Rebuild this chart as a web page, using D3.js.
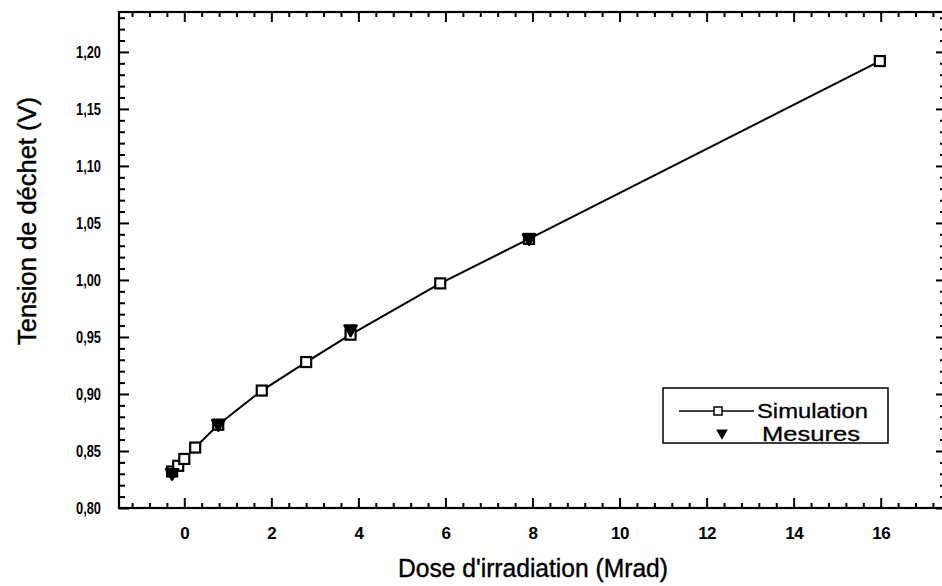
<!DOCTYPE html>
<html>
<head>
<meta charset="utf-8">
<script src="https://cdn.jsdelivr.net/npm/d3@7"></script>
<style>
  html, body { margin: 0; padding: 0; background: #fff; }
  svg { display: block; font-family: "Liberation Sans", Arial, Helvetica, sans-serif; }
</style>
</head>
<body>
<svg id="chart" width="942" height="586"></svg>
<script>
// ---- data ----
const simDose    = [-0.28, -0.14, 0.0, 0.25, 0.78, 1.78, 2.80, 3.82, 5.88, 7.92, 15.98];
const simVoltage = [0.832, 0.837, 0.843, 0.853, 0.873, 0.903, 0.928, 0.952, 0.997, 1.036, 1.192];
const mesDose    = [-0.28, 0.78, 3.82, 7.92];
const mesVoltage = [0.831, 0.874, 0.957, 1.037];
const xTickValues = [0, 2, 4, 6, 8, 10, 12, 14, 16];
const yTickValues = [0.80, 0.85, 0.90, 0.95, 1.00, 1.05, 1.10, 1.15, 1.20];
const yTickLabels = ["0,80", "0,85", "0,90", "0,95", "1,00", "1,05", "1,10", "1,15", "1,20"];
const xTitle = "Dose d'irradiation (Mrad)";
const yTitle = "Tension de déchet (V)";
const legendLabels = ["Simulation", "Mesures"];

// ---- layout ----
const svg = d3.select("#chart");
const pL = 119, pR = 946, pT = 12, pB = 508;

const x = d3.scaleLinear().domain([-1.5, 17.5]).range([pL, pR]);
const y = d3.scaleLinear().domain([0.80, 1.235]).range([pB, pT]);

const xMinor = d3.range(-1.2, 17.5, 0.4).filter(v => Math.abs(v / 2 - Math.round(v / 2)) > 1e-6);
const yMinor = d3.range(0.81, 1.235, 0.01).filter(v => Math.abs(v * 20 - Math.round(v * 20)) > 1e-6);

function styleAxis(g) {
  g.select(".domain").remove();
  g.selectAll(".tick line").attr("stroke", "#000").attr("stroke-width", 2);
  g.selectAll("text").attr("fill", "#000");
}

// minor ticks
svg.append("g").attr("transform", `translate(0,${pB})`)
  .call(d3.axisBottom(x).tickValues(xMinor).tickSize(-5).tickFormat(""))
  .call(styleAxis);
svg.append("g").attr("transform", `translate(0,${pT})`)
  .call(d3.axisTop(x).tickValues(xMinor).tickSize(-5).tickFormat(""))
  .call(styleAxis);
svg.append("g").attr("transform", `translate(${pL},0)`)
  .call(d3.axisLeft(y).tickValues(yMinor).tickSize(-6).tickFormat(""))
  .call(styleAxis);
svg.append("g").attr("transform", `translate(${pR},0)`)
  .call(d3.axisRight(y).tickValues(yMinor).tickSize(-6).tickFormat(""))
  .call(styleAxis);

// major ticks
svg.append("g").attr("transform", `translate(0,${pB})`)
  .call(d3.axisBottom(x).tickValues(xTickValues).tickSize(-10).tickPadding(19).tickFormat(d3.format("d")))
  .call(styleAxis)
  .call(g => g.selectAll("text").attr("font-size", 17).attr("font-weight", "bold").style("letter-spacing", "-0.5px"));
svg.append("g").attr("transform", `translate(0,${pT})`)
  .call(d3.axisTop(x).tickValues(xTickValues).tickSize(-10).tickFormat(""))
  .call(styleAxis);
svg.append("g").attr("transform", `translate(${pL},0)`)
  .call(d3.axisLeft(y).tickValues(yTickValues).tickSize(-10).tickPadding(18)
        .tickFormat((d, i) => yTickLabels[i]))
  .call(styleAxis)
  .call(g => g.selectAll("text").attr("font-size", 17).attr("font-weight", "bold")
        .attr("textLength", 25).attr("lengthAdjust", "spacingAndGlyphs"));
svg.append("g").attr("transform", `translate(${pR},0)`)
  .call(d3.axisRight(y).tickValues(yTickValues).tickSize(-10).tickFormat(""))
  .call(styleAxis);

// frame
svg.append("rect")
  .attr("x", pL).attr("y", pT)
  .attr("width", pR - pL).attr("height", pB - pT)
  .attr("fill", "none").attr("stroke", "#000").attr("stroke-width", 2.2);

// titles
svg.append("text")
  .attr("x", 533).attr("y", 577)
  .attr("text-anchor", "middle")
  .attr("font-size", 25)
  .attr("textLength", 270).attr("lengthAdjust", "spacingAndGlyphs")
  .attr("fill", "#000").attr("stroke", "#000").attr("stroke-width", 0.4)
  .text(xTitle);
svg.append("text")
  .attr("transform", "translate(36,221) rotate(-90)")
  .attr("text-anchor", "middle")
  .attr("font-size", 25)
  .attr("textLength", 248).attr("lengthAdjust", "spacingAndGlyphs")
  .attr("fill", "#000").attr("stroke", "#000").attr("stroke-width", 0.4)
  .text(yTitle);

// simulation line + squares
const simData = simDose.map((d, i) => ({ x: d, y: simVoltage[i] }));
const mesData = mesDose.map((d, i) => ({ x: d, y: mesVoltage[i] }));

svg.append("path")
  .datum(simData)
  .attr("fill", "none").attr("stroke", "#000").attr("stroke-width", 2)
  .attr("d", d3.line().x(d => x(d.x)).y(d => y(d.y)));

const sq = 10;
svg.append("g").selectAll("rect").data(simData).join("rect")
  .attr("x", d => x(d.x) - sq / 2).attr("y", d => y(d.y) - sq / 2)
  .attr("width", sq).attr("height", sq)
  .attr("fill", "#fff").attr("stroke", "#000").attr("stroke-width", 2.2);

const tri = d3.symbol().type(d3.symbolTriangle).size(64);
svg.append("g").selectAll("path").data(mesData).join("path")
  .attr("transform", d => `translate(${x(d.x)},${y(d.y)}) rotate(180)`)
  .attr("d", tri)
  .attr("fill", "#000").attr("stroke", "#000").attr("stroke-width", 2.5).attr("stroke-linejoin", "round");

// legend
const lg = svg.append("g");
lg.append("rect").attr("x", 663).attr("y", 388).attr("width", 225).attr("height", 55)
  .attr("fill", "#fff").attr("stroke", "#000").attr("stroke-width", 1.5);
lg.append("line").attr("x1", 679).attr("x2", 754).attr("y1", 411).attr("y2", 411)
  .attr("stroke", "#000").attr("stroke-width", 1.5);
lg.append("rect").attr("x", 714).attr("y", 407).attr("width", 8).attr("height", 8)
  .attr("fill", "#fff").attr("stroke", "#000").attr("stroke-width", 1.5);
lg.append("path").attr("transform", "translate(722,433) rotate(180)")
  .attr("d", d3.symbol().type(d3.symbolTriangle).size(60))
  .attr("fill", "#000");
lg.append("text").attr("x", 757).attr("y", 418)
  .attr("font-size", 20).attr("textLength", 111).attr("lengthAdjust", "spacingAndGlyphs")
  .attr("fill", "#000").attr("stroke", "#000").attr("stroke-width", 0.3).text(legendLabels[0]);
lg.append("text").attr("x", 762).attr("y", 441)
  .attr("font-size", 20).attr("textLength", 98).attr("lengthAdjust", "spacingAndGlyphs")
  .attr("fill", "#000").attr("stroke", "#000").attr("stroke-width", 0.3).text(legendLabels[1]);
</script>
</body>
</html>
